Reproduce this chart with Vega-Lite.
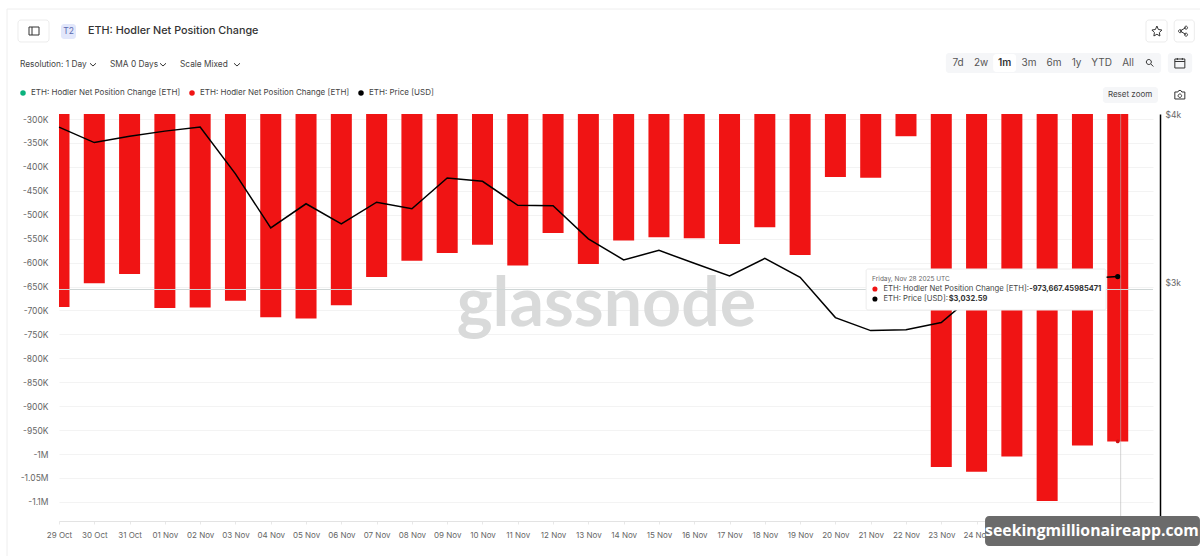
{"$schema":"https://vega.github.io/schema/vega-lite/v6.json","width":1094,"height":407,"autosize":"none","padding":{"left":59,"top":114,"right":47,"bottom":35},"background":"white","config":{"font":"Inter","view":{"stroke":null}},
"datasets":{
"net":[
{"date":"2025-10-29","series":"ETH: Hodler Net Position Change [ETH] ","value":-693000},{"date":"2025-10-30","series":"ETH: Hodler Net Position Change [ETH] ","value":-643000},{"date":"2025-10-31","series":"ETH: Hodler Net Position Change [ETH] ","value":-624000},{"date":"2025-11-01","series":"ETH: Hodler Net Position Change [ETH] ","value":-695000},{"date":"2025-11-02","series":"ETH: Hodler Net Position Change [ETH] ","value":-694000},{"date":"2025-11-03","series":"ETH: Hodler Net Position Change [ETH] ","value":-680000},{"date":"2025-11-04","series":"ETH: Hodler Net Position Change [ETH] ","value":-714000},{"date":"2025-11-05","series":"ETH: Hodler Net Position Change [ETH] ","value":-717000},{"date":"2025-11-06","series":"ETH: Hodler Net Position Change [ETH] ","value":-689000},{"date":"2025-11-07","series":"ETH: Hodler Net Position Change [ETH] ","value":-630000},{"date":"2025-11-08","series":"ETH: Hodler Net Position Change [ETH] ","value":-596000},{"date":"2025-11-09","series":"ETH: Hodler Net Position Change [ETH] ","value":-580000},{"date":"2025-11-10","series":"ETH: Hodler Net Position Change [ETH] ","value":-563000},{"date":"2025-11-11","series":"ETH: Hodler Net Position Change [ETH] ","value":-606000},{"date":"2025-11-12","series":"ETH: Hodler Net Position Change [ETH] ","value":-538000},{"date":"2025-11-13","series":"ETH: Hodler Net Position Change [ETH] ","value":-603000},{"date":"2025-11-14","series":"ETH: Hodler Net Position Change [ETH] ","value":-554000},{"date":"2025-11-15","series":"ETH: Hodler Net Position Change [ETH] ","value":-547000},{"date":"2025-11-16","series":"ETH: Hodler Net Position Change [ETH] ","value":-549000},{"date":"2025-11-17","series":"ETH: Hodler Net Position Change [ETH] ","value":-561000},{"date":"2025-11-18","series":"ETH: Hodler Net Position Change [ETH] ","value":-526000},{"date":"2025-11-19","series":"ETH: Hodler Net Position Change [ETH] ","value":-584000},{"date":"2025-11-20","series":"ETH: Hodler Net Position Change [ETH] ","value":-421000},{"date":"2025-11-21","series":"ETH: Hodler Net Position Change [ETH] ","value":-423000},{"date":"2025-11-22","series":"ETH: Hodler Net Position Change [ETH] ","value":-336000},{"date":"2025-11-23","series":"ETH: Hodler Net Position Change [ETH] ","value":-1027000},{"date":"2025-11-24","series":"ETH: Hodler Net Position Change [ETH] ","value":-1037000},{"date":"2025-11-25","series":"ETH: Hodler Net Position Change [ETH] ","value":-1005000},{"date":"2025-11-26","series":"ETH: Hodler Net Position Change [ETH] ","value":-1098000},{"date":"2025-11-27","series":"ETH: Hodler Net Position Change [ETH] ","value":-982000},{"date":"2025-11-28","series":"ETH: Hodler Net Position Change [ETH] ","value":-973667.46}],
"price":[
{"date":"2025-10-29","series":"ETH: Price [USD]","price":3912},{"date":"2025-10-30","series":"ETH: Price [USD]","price":3810},{"date":"2025-10-31","series":"ETH: Price [USD]","price":3852},{"date":"2025-11-01","series":"ETH: Price [USD]","price":3885},{"date":"2025-11-02","series":"ETH: Price [USD]","price":3912},{"date":"2025-11-03","series":"ETH: Price [USD]","price":3612},{"date":"2025-11-04","series":"ETH: Price [USD]","price":3295},{"date":"2025-11-05","series":"ETH: Price [USD]","price":3433},{"date":"2025-11-06","series":"ETH: Price [USD]","price":3317},{"date":"2025-11-07","series":"ETH: Price [USD]","price":3442},{"date":"2025-11-08","series":"ETH: Price [USD]","price":3404},{"date":"2025-11-09","series":"ETH: Price [USD]","price":3587},{"date":"2025-11-10","series":"ETH: Price [USD]","price":3567},{"date":"2025-11-11","series":"ETH: Price [USD]","price":3424},{"date":"2025-11-12","series":"ETH: Price [USD]","price":3421},{"date":"2025-11-13","series":"ETH: Price [USD]","price":3234},{"date":"2025-11-14","series":"ETH: Price [USD]","price":3120},{"date":"2025-11-15","series":"ETH: Price [USD]","price":3171},{"date":"2025-11-16","series":"ETH: Price [USD]","price":3102},{"date":"2025-11-17","series":"ETH: Price [USD]","price":3036},{"date":"2025-11-18","series":"ETH: Price [USD]","price":3128},{"date":"2025-11-19","series":"ETH: Price [USD]","price":3029},{"date":"2025-11-20","series":"ETH: Price [USD]","price":2828},{"date":"2025-11-21","series":"ETH: Price [USD]","price":2766},{"date":"2025-11-22","series":"ETH: Price [USD]","price":2770},{"date":"2025-11-23","series":"ETH: Price [USD]","price":2804},{"date":"2025-11-24","series":"ETH: Price [USD]","price":2950},{"date":"2025-11-25","series":"ETH: Price [USD]","price":3010},{"date":"2025-11-26","series":"ETH: Price [USD]","price":3040},{"date":"2025-11-27","series":"ETH: Price [USD]","price":3022},{"date":"2025-11-28","series":"ETH: Price [USD]","price":3032.59}]
},
"encoding":{"x":{"field":"date","type":"temporal","title":null,"scale":{"type":"utc","padding":0,"domain":["2025-10-29T00:00:00Z","2025-11-28T23:59:00Z"]},"axis":{"format":"%d %b","tickCount":{"interval":"day","step":1},"labelOverlap":false,"labelFontSize":8,"labelColor":"#666","labelPadding":7,"tickColor":"#e8e8e8","tickSize":3,"domainColor":"#e3e3e3","grid":false,"labelFlush":false}}},
"layer":[
{"encoding":{"y":{"field":"value","type":"quantitative","title":null,"stack":null,"scale":{"domain":[-1139940,-289550],"zero":false,"nice":false},"axis":{"values":[-300000,-350000,-400000,-450000,-500000,-550000,-600000,-650000,-700000,-750000,-800000,-850000,-900000,-950000,-1000000,-1050000,-1100000],"labelExpr":"datum.value<=-1000000 ? '-'+(-datum.value/1000000)+'M' : '-'+(-datum.value/1000)+'K'","labelOverlap":false,"ticks":false,"domain":false,"grid":true,"gridColor":"#f3f3f3","labelFontSize":8.5,"labelColor":"#666","labelPadding":11}}},
"layer":[
{"data":{"name":"net"},"mark":{"type":"bar","size":21,"clip":true,"color":"#f01414"},"encoding":{
"y2":{"datum":-280000},
"color":{"field":"series","type":"nominal","scale":{"domain":["ETH: Hodler Net Position Change [ETH]","ETH: Hodler Net Position Change [ETH] ","ETH: Price [USD]"],"range":["#0ab27d","#f01414","#000000"]},"legend":{"title":null,"orient":"none","legendX":-40,"legendY":-25,"direction":"horizontal","columns":3,"symbolType":"circle","symbolSize":30,"labelFontSize":8,"labelColor":"#444","columnPadding":7,"symbolStrokeWidth":0}}}},
{"data":{"values":[{"label":"glassnode","date":"2025-11-13T12:14:00Z","value":-732500}]},"mark":{"type":"text","fontSize":68,"fontWeight":700,"font":"Lato","baseline":"alphabetic","align":"center","color":"#d9dada"},"encoding":{"text":{"field":"label"}}},
{"data":{"values":[{"value":-656240}]},"mark":{"type":"rule","color":"#cfd6d6","strokeWidth":1},"encoding":{"x":{"value":0},"x2":{"value":1094}}}
]},
{"encoding":{"y":{"field":"price","type":"quantitative","title":null,"scale":{"type":"log","domain":[2000,4000],"zero":false,"nice":false},"axis":{"orient":"right","offset":7,"values":[2000,3000,4000],"labelExpr":"'$'+(datum.value/1000)+'k'","ticks":false,"grid":false,"domainColor":"#000","domainWidth":1.5,"labelFontSize":8.5,"labelColor":"#666","labelPadding":5}}},
"layer":[
{"data":{"name":"price"},"mark":{"type":"line","strokeWidth":1.5,"color":"#000"},"encoding":{"color":{"field":"series","type":"nominal"}}},
{"data":{"values":[{"date":"2025-11-28","price":3032.59}]},"mark":{"type":"point","filled":true,"size":28,"color":"#000","opacity":1}}
]},
{"layer":[
{"data":{"values":[{"date":"2025-11-28T02:00:00Z"}]},"mark":{"type":"rule","color":"#b5b5b5","opacity":0.6},"encoding":{"x":{"field":"date","type":"temporal"}}},
{"data":{"values":[{"date":"2025-10-27T12:40:00Z","date2":"2025-12-05T00:00:00Z","value":-70170,"value2":-1300000}]},"mark":{"type":"rect","fillOpacity":0,"stroke":"#eeeeee","strokeWidth":1},"encoding":{"x":{"field":"date","type":"temporal"},"x2":{"field":"date2"},"y":{"field":"value","type":"quantitative","scale":{"domain":[-1139940,-289550],"zero":false,"nice":false},"axis":null},"y2":{"field":"value2"}}},
{"data":{"values":[{"date":"2025-11-28","value":-973667.46}]},"mark":{"type":"point","filled":true,"size":14,"color":"#d01010","opacity":1},"encoding":{"y":{"field":"value","type":"quantitative","scale":{"domain":[-1139940,-289550],"zero":false,"nice":false},"axis":null}}},
{"data":{"values":[
{"name":"sidebar","date":"2025-10-27T20:07:00Z","date2":"2025-10-28T17:12:00Z","value":-93150,"value2":-139110},
{"name":"star","date":"2025-11-28T19:12:00Z","date2":"2025-11-29T09:36:00Z","value":-93150,"value2":-139110},
{"name":"share","date":"2025-11-29T14:24:00Z","date2":"2025-11-30T04:05:00Z","value":-93150,"value2":-139110}]},
"mark":{"type":"rect","fill":"#ffffff","stroke":"#ececec","cornerRadius":3},"encoding":{"x":{"field":"date","type":"temporal"},"x2":{"field":"date2"},"y":{"field":"value","type":"quantitative","scale":{"domain":[-1139940,-289550],"zero":false,"nice":false},"axis":null},"y2":{"field":"value2"}}},
{"data":{"values":[
{"name":"t2","fill":"T2 badge","date":"2025-10-29T01:22:00Z","date2":"2025-10-29T11:34:00Z","value":-101500,"value2":-132850},
{"name":"range","fill":"range","date":"2025-11-23T03:07:00Z","date2":"2025-11-29T05:31:00Z","value":-162100,"value2":-203900},
{"name":"calendar","fill":"range","date":"2025-11-29T10:05:00Z","date2":"2025-11-30T02:38:00Z","value":-162100,"value2":-203900},
{"name":"reset","fill":"reset","date":"2025-11-27T13:55:00Z","date2":"2025-11-29T03:22:00Z","value":-233140,"value2":-266570},
{"name":"active","fill":"active","date":"2025-11-24T11:17:00Z","date2":"2025-11-25T02:53:00Z","value":-164200,"value2":-201800}]},
"mark":{"type":"rect","cornerRadius":3},"encoding":{"x":{"field":"date","type":"temporal"},"x2":{"field":"date2"},"y":{"field":"value","type":"quantitative","scale":{"domain":[-1139940,-289550],"zero":false,"nice":false},"axis":null},"y2":{"field":"value2"},"fill":{"field":"fill","type":"nominal","legend":null,"scale":{"domain":["T2 badge","range","reset","active"],"range":["#e2e7fb","#f5f6f8","#f5f6f8","#ffffff"]}}}},
{"data":{"values":[
{"icon":"sidebar","date":"2025-10-28T07:00:00Z","value":-116130},
{"icon":"star","date":"2025-11-29T02:38:00Z","value":-116130},
{"icon":"share","date":"2025-11-29T20:24:00Z","value":-116130},
{"icon":"lens","date":"2025-11-28T21:50:00Z","value":-182990},
{"icon":"calendar","date":"2025-11-29T18:14:00Z","value":-182990},
{"icon":"camera","date":"2025-11-29T18:14:00Z","value":-249850},
{"icon":"chevron","date":"2025-10-29T23:07:00Z","value":-186130},
{"icon":"chevron","date":"2025-10-31T22:44:00Z","value":-186130},
{"icon":"chevron","date":"2025-11-03T01:03:00Z","value":-186130}]},
"mark":{"type":"point","filled":false,"size":100,"strokeWidth":1,"color":"#333","opacity":1},"encoding":{"y":{"field":"value","type":"quantitative","scale":{"domain":[-1139940,-289550],"zero":false,"nice":false},"axis":null},"shape":{"field":"icon","type":"nominal","legend":null,"scale":{"domain":["sidebar","star","share","lens","calendar","camera","chevron"],"range":["M-1,-0.8H1V0.8H-1Z M-0.4,-0.8V0.8","M0,-1L0.3,-0.3L1,-0.2L0.5,0.3L0.6,1L0,0.65L-0.6,1L-0.5,0.3L-1,-0.2L-0.3,-0.3Z","M0.6,-0.7L-0.6,0L0.6,0.7 M0.9,-0.7A0.3,0.3 0 1 1 0.89,-0.75Z M-0.3,0A0.3,0.3 0 1 1 -0.31,-0.05Z M0.9,0.7A0.3,0.3 0 1 1 0.89,0.65Z","M-0.7,-0.2A0.5,0.5 0 1 0 0.3,-0.2A0.5,0.5 0 1 0 -0.7,-0.2Z M0.2,0.2L0.7,0.7","M-1,-0.8H1V1H-1Z M-1,-0.3H1 M-0.5,-1V-0.6 M0.5,-1V-0.6","M-1,-0.6H-0.4L-0.2,-0.9H0.2L0.4,-0.6H1V0.8H-1Z M0.35,0.1A0.35,0.35 0 1 1 0.34,0.05Z","M-0.6,-0.25L0,0.3L0.6,-0.25"]}}}},
{"data":{"values":[{"label":"ETH: Hodler Net Position Change","date":"2025-10-29T19:43:00Z","value":-116130}]},"mark":{"type":"text","fontSize":10.8,"fontWeight":500,"align":"left","baseline":"middle","color":"#333"},"encoding":{"text":{"field":"label"},"y":{"field":"value","type":"quantitative","scale":{"domain":[-1139940,-289550],"zero":false,"nice":false},"axis":null}}},
{"data":{"values":[{"label":"T2","date":"2025-10-29T06:28:00Z","value":-116130}]},"mark":{"type":"text","fontSize":8.5,"align":"center","baseline":"middle","color":"#5a6ab0"},"encoding":{"text":{"field":"label"},"y":{"field":"value","type":"quantitative","scale":{"domain":[-1139940,-289550],"zero":false,"nice":false},"axis":null}}},
{"data":{"values":[{"label":"Resolution: 1 Day","date":"2025-10-27T21:30:00Z","value":-186130},{"label":"SMA 0 Days","date":"2025-10-30T10:41:00Z","value":-186130},{"label":"Scale Mixed","date":"2025-11-01T10:18:00Z","value":-186130}]},"mark":{"type":"text","fontSize":8.3,"align":"left","baseline":"middle","color":"#444"},"encoding":{"text":{"field":"label"},"y":{"field":"value","type":"quantitative","scale":{"domain":[-1139940,-289550],"zero":false,"nice":false},"axis":null}}},
{"data":{"values":[{"label":"7d","date":"2025-11-23T11:24:00Z","value":-182990},{"label":"2w","date":"2025-11-24T03:03:00Z","value":-182990},{"label":"3m","date":"2025-11-25T11:41:00Z","value":-182990},{"label":"6m","date":"2025-11-26T04:41:00Z","value":-182990},{"label":"1y","date":"2025-11-26T20:00:00Z","value":-182990},{"label":"YTD","date":"2025-11-27T13:00:00Z","value":-182990},{"label":"All","date":"2025-11-28T07:00:00Z","value":-182990}]},"mark":{"type":"text","fontSize":10,"align":"center","baseline":"middle","color":"#555"},"encoding":{"text":{"field":"label"},"y":{"field":"value","type":"quantitative","scale":{"domain":[-1139940,-289550],"zero":false,"nice":false},"axis":null}}},
{"data":{"values":[{"label":"1m","date":"2025-11-24T19:00:00Z","value":-182990}]},"mark":{"type":"text","fontSize":10,"fontWeight":600,"align":"center","baseline":"middle","color":"#333"},"encoding":{"text":{"field":"label"},"y":{"field":"value","type":"quantitative","scale":{"domain":[-1139940,-289550],"zero":false,"nice":false},"axis":null}}},
{"data":{"values":[{"label":"Reset zoom","date":"2025-11-28T08:24:00Z","value":-249850}]},"mark":{"type":"text","fontSize":8,"align":"center","baseline":"middle","color":"#444"},"encoding":{"text":{"field":"label"},"y":{"field":"value","type":"quantitative","scale":{"domain":[-1139940,-289550],"zero":false,"nice":false},"axis":null}}},
{"data":{"values":[{"date":"2025-11-20T20:53:00Z","date2":"2025-11-27T16:05:00Z","value":-613410,"value2":-699075}]},"mark":{"type":"rect","fill":"#ffffff","stroke":"#ececec","cornerRadius":2},"encoding":{"x":{"field":"date","type":"temporal"},"x2":{"field":"date2"},"y":{"field":"value","type":"quantitative","scale":{"domain":[-1139940,-289550],"zero":false,"nice":false},"axis":null},"y2":{"field":"value2"}}},
{"data":{"values":[{"label":"Friday, Nov 28 2025 UTC","date":"2025-11-21T00:58:00Z","value":-633260}]},"mark":{"type":"text","fontSize":6.5,"align":"left","baseline":"middle","color":"#666"},"encoding":{"text":{"field":"label"},"y":{"field":"value","type":"quantitative","scale":{"domain":[-1139940,-289550],"zero":false,"nice":false},"axis":null}}},
{"data":{"values":[{"label":"ETH: Hodler Net Position Change [ETH]:","date":"2025-11-21T08:38:00Z","value":-655200},{"label":"ETH: Price [USD]:","date":"2025-11-21T08:38:00Z","value":-676100}]},"mark":{"type":"text","fontSize":7.7,"align":"left","baseline":"middle","color":"#444"},"encoding":{"text":{"field":"label"},"y":{"field":"value","type":"quantitative","scale":{"domain":[-1139940,-289550],"zero":false,"nice":false},"axis":null}}},
{"data":{"values":[{"label":"-973,667.45985471","date":"2025-11-25T11:46:00Z","value":-655200},{"label":"$3,032.59","date":"2025-11-23T05:02:00Z","value":-676100}]},"mark":{"type":"text","fontSize":7.5,"fontWeight":700,"align":"left","baseline":"middle","color":"#333"},"encoding":{"text":{"field":"label"},"y":{"field":"value","type":"quantitative","scale":{"domain":[-1139940,-289550],"zero":false,"nice":false},"axis":null}}},
{"data":{"values":[{"date":"2025-11-21T02:53:00Z","value":-655200,"series":"ETH: Hodler Net Position Change [ETH] "},{"date":"2025-11-21T02:53:00Z","value":-676100,"series":"ETH: Price [USD]"}]},"mark":{"type":"point","filled":true,"size":26,"opacity":1},"encoding":{"y":{"field":"value","type":"quantitative","scale":{"domain":[-1139940,-289550],"zero":false,"nice":false},"axis":null},"color":{"field":"series","type":"nominal"}}},
{"data":{"values":[{"date":"2025-11-24T05:46:00Z","date2":"2025-11-30T07:55:00Z","value":-1129500,"value2":-1192200}]},"mark":{"type":"rect","fill":"#6b6b6b","cornerRadius":4},"encoding":{"x":{"field":"date","type":"temporal"},"x2":{"field":"date2"},"y":{"field":"value","type":"quantitative","scale":{"domain":[-1139940,-289550],"zero":false,"nice":false},"axis":null},"y2":{"field":"value2"}}},
{"data":{"values":[{"label":"seekingmillionaireapp.com","date":"2025-11-27T06:29:00Z","value":-1160840}]},"mark":{"type":"text","font":"Open Sans","fontSize":15.8,"fontWeight":700,"align":"center","baseline":"middle","color":"#ffffff"},"encoding":{"text":{"field":"label"},"y":{"field":"value","type":"quantitative","scale":{"domain":[-1139940,-289550],"zero":false,"nice":false},"axis":null}}}
]}
],
"resolve":{"scale":{"y":"independent"}}}
